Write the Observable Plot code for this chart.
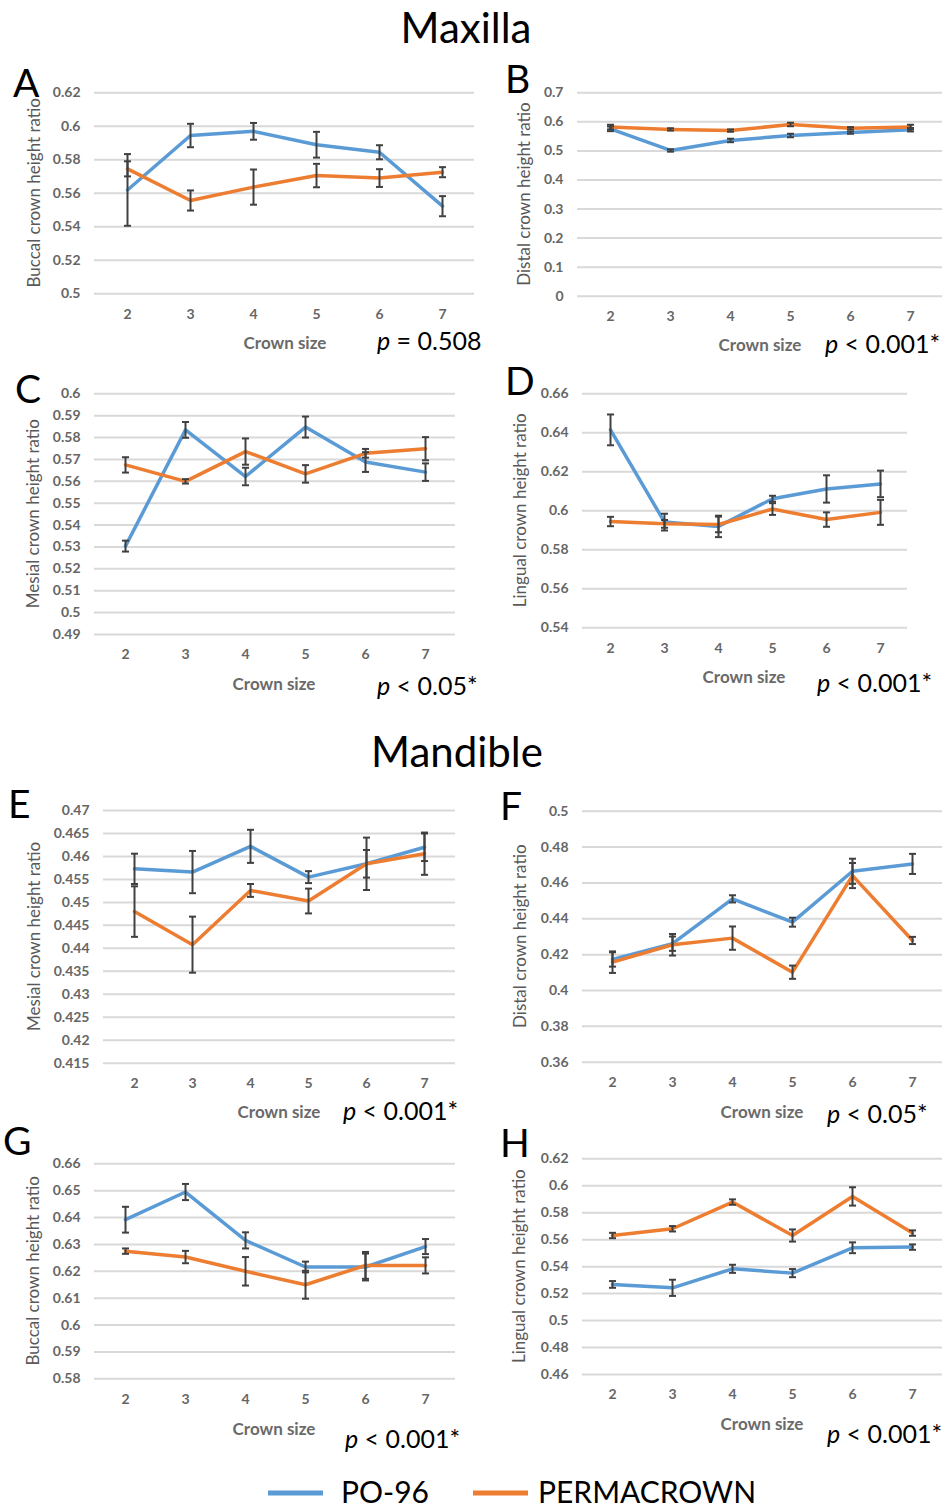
<!DOCTYPE html>
<html><head><meta charset="utf-8">
<script src="https://cdn.jsdelivr.net/npm/d3@7"></script>
<script src="https://cdn.jsdelivr.net/npm/@observablehq/plot@0.6"></script>
<style>
body{margin:0;background:#fff;}
#root{position:relative;width:952px;height:1510px;overflow:hidden;background:#fff;font-family:Lato,sans-serif;}
.panel{position:absolute;}
#overlay{position:absolute;left:0;top:0;pointer-events:none;}
</style></head><body><div id="root"></div>
<script>
// ---------- data ----------
const crownSizes = [2, 3, 4, 5, 6, 7];
const seriesNames = ["PO-96", "PERMACROWN"];
const seriesColors = ["#5B9BD5", "#ED7D31"];

// A: Maxilla buccal
const po96A = [0.562, 0.5945, 0.597, 0.589, 0.5845, 0.5523];
const po96ErrA = [0.0214, 0.007, 0.005, 0.0077, 0.0042, 0.006];
const permaA = [0.5746, 0.5557, 0.5637, 0.5706, 0.5691, 0.5726];
const permaErrA = [0.0045, 0.006, 0.0105, 0.007, 0.0053, 0.003];
const yTicksA = ["0.5", "0.52", "0.54", "0.56", "0.58", "0.6", "0.62"];

// B: Maxilla distal
const po96B = [0.576, 0.5015, 0.536, 0.553, 0.563, 0.573];
const po96ErrB = [0.008, 0.004, 0.006, 0.006, 0.004, 0.006];
const permaB = [0.582, 0.574, 0.570, 0.591, 0.578, 0.582];
const permaErrB = [0.008, 0.004, 0.004, 0.006, 0.004, 0.008];
const yTicksB = ["0", "0.1", "0.2", "0.3", "0.4", "0.5", "0.6", "0.7"];

// C: Maxilla mesial
const po96C = [0.5304, 0.5835, 0.5622, 0.5848, 0.5688, 0.5642];
const po96ErrC = [0.0025, 0.0036, 0.004, 0.0048, 0.0045, 0.004];
const permaC = [0.5675, 0.560, 0.5736, 0.5634, 0.5728, 0.5749];
const permaErrC = [0.0035, 0.001, 0.006, 0.004, 0.002, 0.0053];
const yTicksC = ["0.49", "0.5", "0.51", "0.52", "0.53", "0.54", "0.55", "0.56", "0.57", "0.58", "0.59", "0.6"];

// D: Maxilla lingual
const po96D = [0.6415, 0.5942, 0.592, 0.6062, 0.6112, 0.6138];
const po96ErrD = [0.0079, 0.0043, 0.0055, 0.0015, 0.007, 0.0068];
const permaD = [0.5945, 0.5933, 0.593, 0.6009, 0.5955, 0.5992];
const permaErrD = [0.0024, 0.002, 0.004, 0.003, 0.0037, 0.0064];
const yTicksD = ["0.54", "0.56", "0.58", "0.6", "0.62", "0.64", "0.66"];

// E: Mandible mesial
const po96E = [0.4573, 0.4566, 0.4622, 0.4555, 0.4584, 0.462];
const po96ErrE = [0.0033, 0.0046, 0.0036, 0.0013, 0.003, 0.003];
const permaE = [0.448, 0.4408, 0.4526, 0.4503, 0.4584, 0.4606];
const permaErrE = [0.0055, 0.0061, 0.0014, 0.0027, 0.0057, 0.0046];
const yTicksE = ["0.415", "0.42", "0.425", "0.43", "0.435", "0.44", "0.445", "0.45", "0.455", "0.46", "0.465", "0.47"];

// F: Mandible distal
const po96F = [0.4173, 0.4261, 0.4511, 0.4381, 0.4665, 0.4706];
const po96ErrF = [0.004, 0.004, 0.002, 0.0025, 0.007, 0.0056];
const permaF = [0.4158, 0.4255, 0.4292, 0.4102, 0.4641, 0.4279];
const permaErrF = [0.006, 0.006, 0.0065, 0.0037, 0.007, 0.002];
const yTicksF = ["0.36", "0.38", "0.4", "0.42", "0.44", "0.46", "0.48", "0.5"];

// G: Mandible buccal
const po96G = [0.6392, 0.6495, 0.6315, 0.6216, 0.6216, 0.6292];
const po96ErrG = [0.0048, 0.003, 0.003, 0.002, 0.005, 0.0028];
const permaG = [0.6275, 0.6253, 0.620, 0.615, 0.6222, 0.6222];
const permaErrG = [0.001, 0.0023, 0.0053, 0.0052, 0.005, 0.003];
const yTicksG = ["0.58", "0.59", "0.6", "0.61", "0.62", "0.63", "0.64", "0.65", "0.66"];

// H: Mandible lingual
const po96H = [0.5268, 0.5243, 0.5384, 0.5352, 0.554, 0.5545];
const po96ErrH = [0.0025, 0.006, 0.003, 0.003, 0.004, 0.002];
const permaH = [0.5631, 0.5681, 0.5879, 0.5631, 0.5921, 0.5649];
const permaErrH = [0.002, 0.002, 0.002, 0.0045, 0.0068, 0.002];
const yTicksH = ["0.46", "0.48", "0.5", "0.52", "0.54", "0.56", "0.58", "0.6", "0.62"];

const xLabel = "Crown size";
const sectionTitles = ["Maxilla", "Mandible"];

// ---------- layout ----------
const panels = [
  {letter:"A", yTitle:"Buccal crown height ratio", pOp:" = ", pVal:"0.508", po:po96A, poErr:po96ErrA, pm:permaA, pmErr:permaErrA, ticks:yTicksA,
   left:0, top:60, width:490, height:275, x0:94, x1:474, yTop:92.3, yBot:293.3,
   titleX:34, lx:13, lb:97, px:377, pb:350, cx:285, cb:349},
  {letter:"B", yTitle:"Distal crown height ratio", pOp:" < ", pVal:"0.001*", po:po96B, poErr:po96ErrB, pm:permaB, pmErr:permaErrB, ticks:yTicksB,
   left:490, top:60, width:462, height:275, x0:577, x1:942, yTop:92.3, yBot:295.7,
   titleX:524, lx:505, lb:93, px:825, pb:353, cx:760, cb:351},
  {letter:"C", yTitle:"Mesial crown height ratio", pOp:" < ", pVal:"0.05*", po:po96C, poErr:po96ErrC, pm:permaC, pmErr:permaErrC, ticks:yTicksC,
   left:0, top:370, width:490, height:300, x0:94, x1:455, yTop:393.3, yBot:634,
   titleX:33, lx:15, lb:403, px:377, pb:695, cx:274, cb:690},
  {letter:"D", yTitle:"Lingual crown height ratio", pOp:" < ", pVal:"0.001*", po:po96D, poErr:po96ErrD, pm:permaD, pmErr:permaErrD, ticks:yTicksD,
   left:490, top:370, width:462, height:295, x0:582, x1:907, yTop:393.3, yBot:627.3,
   titleX:520, lx:505, lb:395, px:817, pb:692, cx:744, cb:683},
  {letter:"E", yTitle:"Mesial crown height ratio", pOp:" < ", pVal:"0.001*", po:po96E, poErr:po96ErrE, pm:permaE, pmErr:permaErrE, ticks:yTicksE,
   left:0, top:780, width:490, height:318, x0:103, x1:455, yTop:810, yBot:1062.7,
   titleX:34, lx:8, lb:818, px:343, pb:1120, cx:279, cb:1118},
  {letter:"F", yTitle:"Distal crown height ratio", pOp:" < ", pVal:"0.05*", po:po96F, poErr:po96ErrF, pm:permaF, pmErr:permaErrF, ticks:yTicksF,
   left:490, top:780, width:462, height:318, x0:582, x1:942, yTop:810.7, yBot:1061.7,
   titleX:520, lx:500, lb:820, px:827, pb:1123, cx:762, cb:1118},
  {letter:"G", yTitle:"Buccal crown height ratio", pOp:" < ", pVal:"0.001*", po:po96G, poErr:po96ErrG, pm:permaG, pmErr:permaErrG, ticks:yTicksG,
   left:0, top:1120, width:490, height:295, x0:94, x1:455, yTop:1163.3, yBot:1378.3,
   titleX:33, lx:3, lb:1155, px:345, pb:1448, cx:274, cb:1435},
  {letter:"H", yTitle:"Lingual crown height ratio", pOp:" < ", pVal:"0.001*", po:po96H, poErr:po96ErrH, pm:permaH, pmErr:permaErrH, ticks:yTicksH,
   left:490, top:1120, width:462, height:292, x0:582, x1:942, yTop:1158.3, yBot:1374,
   titleX:519, lx:500, lb:1157, px:827, pb:1443, cx:762, cb:1430}
];

const root = document.getElementById("root");
const ERR = "#404040";
// horizontal cap symbol for error bars
const capSymbol = {
  draw(context, size) {
    const r = Math.sqrt(size / Math.PI);
    context.moveTo(-r, 0);
    context.lineTo(r, 0);
  }
};

function makePanel(p) {
  const rows = [];
  crownSizes.forEach((s, i) => rows.push({size: s, series: seriesNames[0], value: p.po[i], err: p.poErr[i]}));
  crownSizes.forEach((s, i) => rows.push({size: s, series: seriesNames[1], value: p.pm[i], err: p.pmErr[i]}));
  const ticks = p.ticks.map(Number);
  const fmt = new Map(ticks.map((t, i) => [t, p.ticks[i]]));
  const chart = Plot.plot({
    width: p.width, height: p.height,
    marginLeft: p.x0 - p.left, marginRight: p.left + p.width - p.x1,
    marginTop: p.yTop - p.top, marginBottom: p.top + p.height - p.yBot,
    style: {fontFamily: "Lato, sans-serif", fontSize: "14px", fontWeight: "bold", color: "#666666", background: "transparent", overflow: "visible"},
    x: {type: "point", domain: crownSizes, padding: 0.5, tickSize: 0, tickPadding: 15, label: null},
    y: {domain: [ticks[0], ticks[ticks.length - 1]], ticks: ticks, tickSize: 0, tickPadding: 14, tickFormat: d => fmt.get(d), label: null},
    color: {domain: seriesNames, range: seriesColors},
    marks: [
      Plot.ruleY(ticks, {stroke: "#d9d9d9", strokeWidth: 2}),
      Plot.line(rows, {x: "size", y: "value", z: "series", stroke: "series", strokeWidth: 3.5, strokeLinejoin: "round"}),
      Plot.ruleX(rows, {x: "size", y1: d => d.value - d.err, y2: d => d.value + d.err, stroke: ERR, strokeWidth: 2}),
      Plot.dot(rows, {x: "size", y: d => d.value + d.err, symbol: capSymbol, r: 3.5, fill: "none", stroke: ERR, strokeWidth: 2}),
      Plot.dot(rows, {x: "size", y: d => d.value - d.err, symbol: capSymbol, r: 3.5, fill: "none", stroke: ERR, strokeWidth: 2})
    ]
  });
  const wrap = document.createElement("div");
  wrap.className = "panel";
  wrap.style.left = p.left + "px";
  wrap.style.top = p.top + "px";
  wrap.appendChild(chart);
  root.appendChild(wrap);
}
panels.forEach(makePanel);

// ---------- text overlay (titles, labels, legend) ----------
const svg = d3.select(root).append("svg").attr("id", "overlay")
  .attr("width", 952).attr("height", 1510)
  .style("font-family", "Lato, sans-serif");

svg.append("text").attr("x", 466).attr("y", 43).attr("text-anchor", "middle")
  .attr("font-size", 42).attr("fill", "#000").text(sectionTitles[0]);
svg.append("text").attr("x", 457).attr("y", 767).attr("text-anchor", "middle")
  .attr("font-size", 42).attr("fill", "#000").text(sectionTitles[1]);

panels.forEach(p => {
  const cy = (p.yTop + p.yBot) / 2;
  svg.append("text").attr("transform", `translate(${p.titleX},${cy}) rotate(-90)`)
    .attr("text-anchor", "middle").attr("dy", "0.35em")
    .attr("font-size", 17).attr("fill", "#595959").text(p.yTitle);
  svg.append("text").attr("x", p.cx).attr("y", p.cb).attr("text-anchor", "middle")
    .attr("font-size", 17).attr("font-weight", "bold").attr("fill", "#6a6a6a").text(xLabel);
  svg.append("text").attr("x", p.lx).attr("y", p.lb)
    .attr("font-size", 39).attr("fill", "#000").text(p.letter);
  const t = svg.append("text").attr("x", p.px).attr("y", p.pb)
    .attr("font-size", 25).attr("fill", "#000");
  t.append("tspan").attr("font-style", "italic").text("p");
  t.append("tspan").text(p.pOp + p.pVal);
});

// legend
const legend = [
  {x1: 268, x2: 323, tx: 341},
  {x1: 473, x2: 528, tx: 538}
];
legend.forEach((l, i) => {
  svg.append("line").attr("x1", l.x1).attr("x2", l.x2).attr("y1", 1493).attr("y2", 1493)
    .attr("stroke", seriesColors[i]).attr("stroke-width", 5);
  svg.append("text").attr("x", l.tx).attr("y", 1503).attr("font-size", 30)
    .attr("fill", "#000").text(seriesNames[i]);
});
</script></body></html>
